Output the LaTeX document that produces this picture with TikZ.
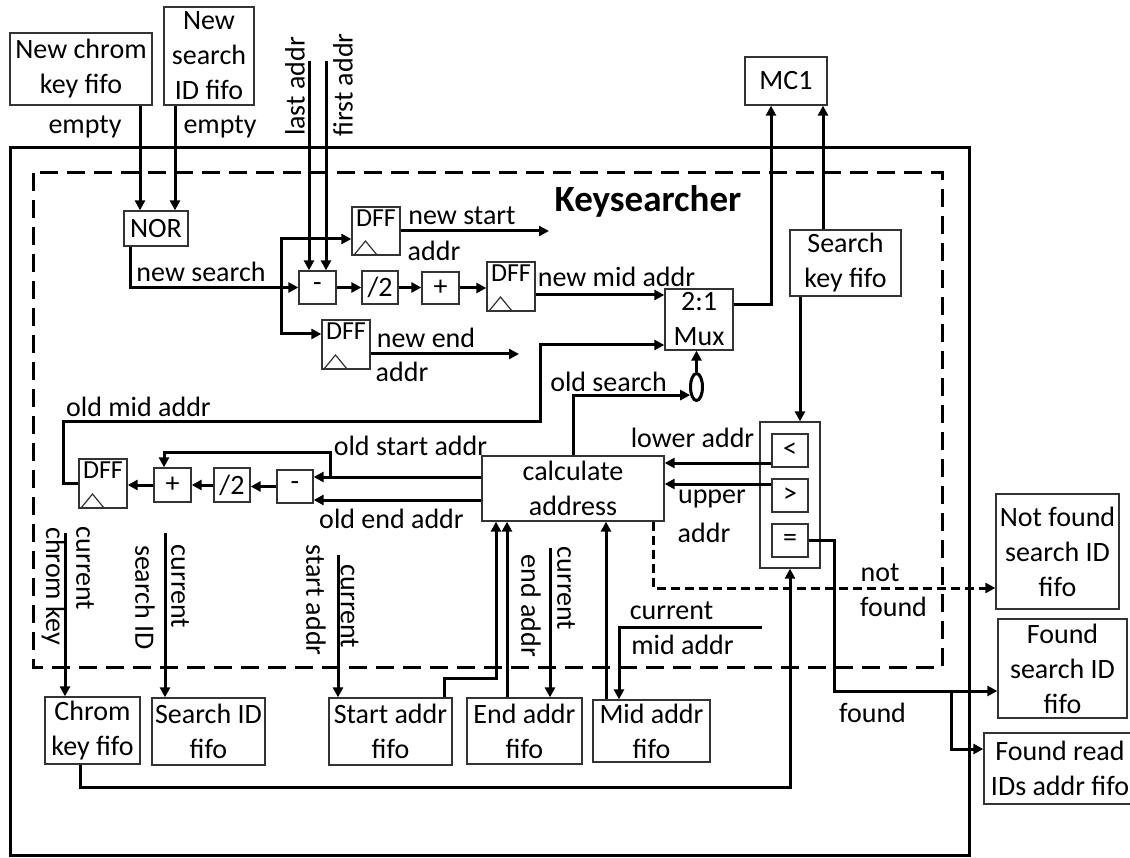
\documentclass[tikz,border=0pt]{standalone}
\usepackage{fontspec}
\setmainfont{Carlito}
\usetikzlibrary{arrows.meta,shapes.geometric}
\newcommand\myfnt{\fontsize{28}{35}\selectfont}
\newcommand\dfffnt{\fontsize{26}{30}\selectfont}
\newcommand\ksfnt{\fontsize{37}{44}\selectfont\bfseries}
\begin{document}
\begin{tikzpicture}[x=1pt,y=-1pt,
  every node/.style={font=\myfnt, inner sep=0pt},
  box/.style={draw=black!80, line width=1.3pt, align=center},
  wire/.style={line width=3pt},
  arr/.style={wire, -{Triangle[length=10pt,width=10pt]}},
  arrtwo/.style={wire, {Triangle[length=10pt,width=10pt]}-{Triangle[length=10pt,width=10pt]}},
  dashframe/.style={wire, dash pattern=on 18pt off 9pt},
  dnf/.style={wire, dash pattern=on 9pt off 5pt, -{Triangle[length=10pt,width=10pt]}},
  vlbl/.style={rotate=-90},
  ulbl/.style={rotate=90},
  dffbox/.style={box, minimum width=48pt, minimum height=48pt,
     label={[font=\dfffnt, anchor=north, inner sep=0pt, yshift=-3pt]north:DFF},
     path picture={\draw[black!80, line width=1.2pt] ([xshift=2pt]path picture bounding box.south west) -- ++(11.5,-14) -- ++(11.5,14);}},
]
\useasboundingbox (0,0) rectangle (1130,858);

% frames
\draw[wire] (10,148) rectangle (969,855);
\draw[dashframe] (33,173) rectangle (942,667);
\node[font=\ksfnt] (ks) at (648,201) {Keysearcher};

% top inputs
\node[box, minimum width=142pt, minimum height=72pt] (nck) at (81,69) {New chrom\\key fifo};
\node[box, minimum width=90pt, minimum height=98pt] (nsid) at (209,56) {New\\search\\ID fifo};
\node (e1) at (85,127) {empty};
\node (e2) at (220,127) {empty};
\node[box, minimum width=64pt, minimum height=35pt] (nor) at (156,228.5) {NOR};
\draw[arr] (140,0 |- nck.south) -- (140,0 |- nor.north);
\draw[arr] (175,0 |- nsid.south) -- (175,0 |- nor.north);

% new search path
\node (ns) at (201,272) {new search};
\node[box, minimum width=37pt, minimum height=33pt] (m1) at (317.5,287.5) {-};
\node[box, minimum width=36pt, minimum height=33pt] (d1) at (380,287.5) {/2};
\node[box, minimum width=37pt, minimum height=32pt] (p1) at (440.5,288) {+};
\node[dffbox, minimum height=49pt] (dffm) at (511,286.5) {};
\node[dffbox] (dffs) at (376,231) {};
\node[dffbox, minimum height=49pt] (dffe) at (346,344.5) {};
\draw[arr] (130,0 |- nor.south) |- (m1.west);
\coordinate (la) at (309,61);
\coordinate (fa) at (326,61);
\draw[arr] (la) -- (la |- m1.north);
\draw[arr] (fa) -- (fa |- m1.north);
\node[ulbl] (lal) at (295,86.5) {last addr};
\node[ulbl] (fal) at (343,85) {first addr};
\draw[arr] (m1.east) -- (m1.east -| d1.west);
\draw[arr] (d1.east) -- (d1.east -| p1.west);
\draw[arr] (p1.east) -- (p1.east -| dffm.west);
\coordinate (bt) at (281,239);
\coordinate (bb) at (281,334);
\draw[arrtwo] (dffs.west |- bt) -| (bb) -- (dffe.west |- bb);
\coordinate (nsa) at (549,231);
\draw[arr] (dffs.east) -- (nsa);
\node (nsl1) at (462,215.5) {new start};
\node (nsl2) at (434,250.5) {addr};
\coordinate (nea) at (519,354);
\draw[arr] (dffe.east |- nea) -- (nea);
\node (nel1) at (426,337.5) {new end};
\node (nel2) at (402,372) {addr};

% mux and MC1
\node[box, minimum width=68pt, minimum height=61pt] (mux) at (699,319.5) {2:1\\Mux};
\node[box, minimum width=82pt, minimum height=48pt] (mc1) at (786,81) {MC1};
\coordinate (nm) at (0,295);
\draw[arr] (dffm.east |- nm) -- (mux.west |- nm);
\node (nml) at (616.5,276.5) {new mid addr};
\coordinate (mo) at (771,305);
\draw[arr] (mux.east |- mo) -| (mo |- mc1.south);

% search key fifo and comparator
\node[box, minimum width=111pt, minimum height=66pt] (skf) at (845.5,263) {Search\\key fifo};
\draw[arr] (823,0 |- skf.north) -- (823,0 |- mc1.south);
\node[box, minimum width=60pt, minimum height=146pt] (cmp) at (790,495) {};
\node[box, minimum width=36pt, minimum height=33pt] (lt) at (790,450.5) {<};
\node[box, minimum width=36pt, minimum height=33pt] (gt) at (790,495.5) {>};
\node[box, minimum width=36pt, minimum height=33pt] (eq) at (790,540.5) {=};
\draw[arr] (800,0 |- skf.south) -- (800,0 |- cmp.north);

% calculate address
\node[box, minimum width=182pt, minimum height=65pt] (calc) at (573,488.5) {calculate\\address};
\draw[arr] (lt.west |- 0,463) -- (calc.east |- 0,463);
\draw[arr] (gt.west |- 0,484) -- (calc.east |- 0,484);
\node (lal2) at (692.5,437.5) {lower addr};
\node (ual1) at (712,499) {upper};
\node (ual2) at (704,532.5) {addr};

% inverter and old search
\node[ellipse, draw, line width=3pt, minimum width=12pt, minimum height=27pt] (inv) at (696.5,387) {};
\draw[arr] (inv.north) -- (inv.north |- mux.south);
\draw[arr] (calc.north) |- (inv.232);
\node (osl) at (608.5,381.5) {old search};

% old mid addr loop
\node[dffbox, minimum height=49pt] (dffl) at (103,483.5) {};
\node[box, minimum width=37pt, minimum height=34pt] (p2) at (172.5,485) {+};
\node[box, minimum width=36pt, minimum height=34pt] (d2) at (232,485) {/2};
\node[box, minimum width=36pt, minimum height=33pt] (m2) at (295,486.5) {-};
\draw[arr] (dffl.west) -| (63,422) -| (540,345) -- (mux.west |- 0,345);
\node (oml) at (138.5,406.5) {old mid addr};
\draw[arr] (m2.west) -- (m2.west -| d2.east);
\draw[arr] (d2.west) -- (d2.west -| p2.east);
\draw[arr] (p2.west) -- (p2.west -| dffl.east);
\draw[arr] (calc.west |- 0,477) -- (m2.east |- 0,477);
\draw[arr] (330,477) |- (164,452) -- (164,0 |- p2.north);
\draw[arr] (calc.west |- 0,500) -- (m2.east |- 0,500);
\node (osal) at (410.5,445.5) {old start addr};
\node (oeal) at (391.5,519) {old end addr};

% bottom fifos
\node[box, minimum width=95pt, minimum height=67pt] (ckf) at (92.5,730.5) {Chrom\\key fifo};
\node[box, minimum width=113pt, minimum height=67pt] (sidf) at (208.5,731.5) {Search ID\\fifo};
\node[box, minimum width=123pt, minimum height=67pt] (saf) at (390.5,731.5) {Start addr\\fifo};
\node[box, minimum width=115pt, minimum height=66pt] (eaf) at (524.5,731) {End addr\\fifo};
\node[box, minimum width=117pt, minimum height=62pt] (maf) at (651.5,731) {Mid addr\\fifo};

\coordinate (cck) at (65,533);
\draw[arr] (cck) -- (cck |- ckf.north);
\node[vlbl] (cck1) at (85,568.5) {current};
\node[vlbl] (cck2) at (53.5,586) {chrom key};
\coordinate (csi) at (165,533);
\draw[arr] (csi) -- (csi |- sidf.north);
\node[vlbl] (csi1) at (180,586.5) {current};
\node[vlbl] (csi2) at (145,597.5) {search ID};
\coordinate (csa) at (338,555);
\draw[arr] (csa) -- (csa |- saf.north);
\node[vlbl] (csa1) at (349.5,606.5) {current};
\node[vlbl] (csa2) at (316,600) {start addr};
\coordinate (cea) at (550,548);
\draw[arr] (cea) -- (cea |- eaf.north);
\node[vlbl] (cea1) at (566,588.5) {current};
\node[vlbl] (cea2) at (531,606) {end addr};
\coordinate (cma) at (762,627);
\draw[arr] (cma) -| (619,0 |- maf.north);
\node (cma1) at (671.5,611) {current};
\node (cma2) at (682.5,645) {mid addr};

\draw[arr] (444,0 |- saf.north) |- (496,678) -- (496,0 |- calc.south);
\draw[arr] (507,0 |- eaf.north) -- (507,0 |- calc.south);
\draw[arr] (606,0 |- maf.north) -- (606,0 |- calc.south);
\draw[arr] (80,0 |- ckf.south) |- (790,787) -- (cmp.south);

% outputs
\node[box, minimum width=123pt, minimum height=115pt] (nfsid) at (1057.5,551.5) {Not found\\search ID\\fifo};
\node[box, minimum width=129pt, minimum height=99pt] (fsid) at (1062.5,668.5) {Found\\search ID\\fifo};
\node[box, minimum width=152pt, minimum height=71pt] (frid) at (1060,768.5) {Found read\\IDs addr fifo};
\draw[dnf] (653,0 |- calc.south) |- (nfsid.west |- 0,588);
\node (nfl1) at (880,573) {not};
\node (nfl2) at (893.5,606.5) {found};
\draw[arr] (eq.east) -| (834,691) -- (fsid.west |- 0,691);
\draw[arr] (951,691) |- (frid.west |- 0,749);
\node (fl) at (872.5,713) {found};
\end{tikzpicture}
\end{document}
